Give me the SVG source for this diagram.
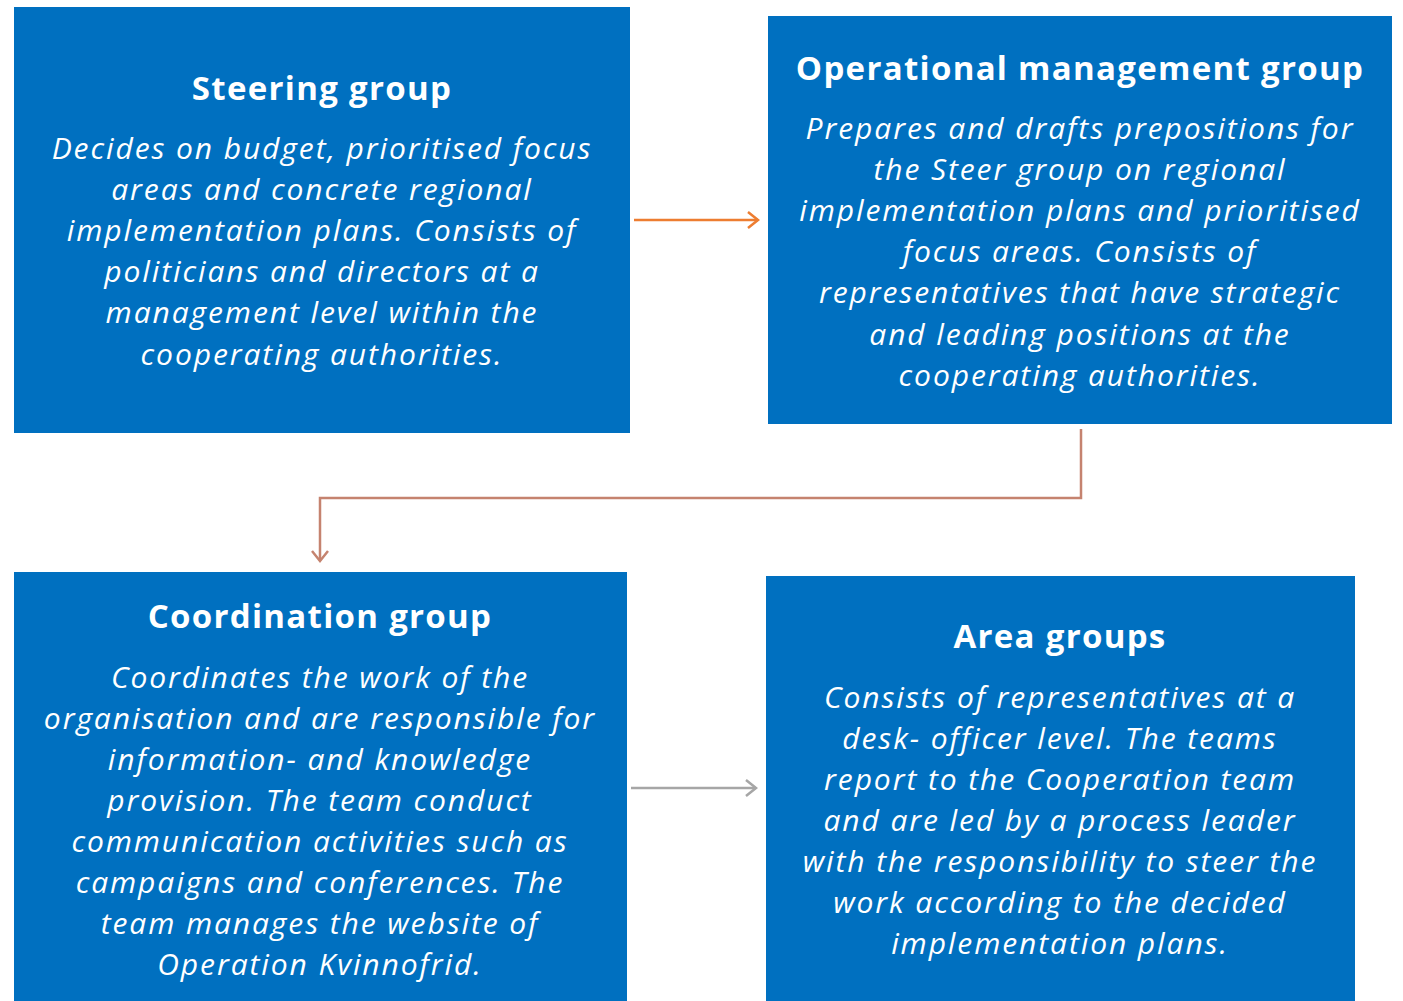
<svg xmlns="http://www.w3.org/2000/svg" width="1403" height="1001" viewBox="0 0 1403 1001">
<defs>
<style>
.box{fill:#0070C0}
.t{font-family:"Open Sans","Liberation Sans",sans-serif;font-weight:bold;font-size:33px;letter-spacing:1.3px;fill:#fff;text-anchor:middle}
.b{font-family:"Open Sans","Liberation Sans",sans-serif;font-style:italic;font-size:30px;letter-spacing:1.9px;fill:#fff;text-anchor:middle}
.c{fill:none;stroke-width:2.5}
</style>
<marker id="ao" viewBox="0 0 20 20" refX="18" refY="10" markerWidth="20" markerHeight="20" markerUnits="userSpaceOnUse" orient="auto"><path d="M8,2 L18,10 L8,18" fill="none" stroke="#ED7D31" stroke-width="2.5"/></marker>
<marker id="ab" viewBox="0 0 20 20" refX="18" refY="10" markerWidth="20" markerHeight="20" markerUnits="userSpaceOnUse" orient="auto"><path d="M8,2 L18,10 L8,18" fill="none" stroke="#C5836F" stroke-width="2.5"/></marker>
<marker id="ag" viewBox="0 0 20 20" refX="18" refY="10" markerWidth="20" markerHeight="20" markerUnits="userSpaceOnUse" orient="auto"><path d="M8,2 L18,10 L8,18" fill="none" stroke="#A6A6A6" stroke-width="2.5"/></marker>
</defs>
<rect width="1403" height="1001" fill="#fff"/>
<g id="connectors">
<line class="c" x1="634" y1="220" x2="758" y2="220" stroke="#ED7D31" marker-end="url(#ao)"/>
<polyline class="c" points="1081,429 1081,498 320,498 320,561" stroke="#C5836F" marker-end="url(#ab)"/>
<line class="c" x1="631" y1="788" x2="756" y2="788" stroke="#A6A6A6" marker-end="url(#ag)"/>
</g>
<g id="steering">
<rect class="box" x="14" y="7" width="616" height="426"/>
<text class="t" x="322" y="100">Steering group</text>
<text class="b" x="322"><tspan x="322" y="159">Decides on budget, prioritised focus</tspan><tspan x="322" y="200">areas and concrete regional</tspan><tspan x="322" y="241">implementation plans. Consists of</tspan><tspan x="322" y="282">politicians and directors at a</tspan><tspan x="322" y="323">management level within the</tspan><tspan x="322" y="365">cooperating authorities.</tspan></text>
</g>
<g id="operational">
<rect class="box" x="768" y="16" width="624" height="408"/>
<text class="t" x="1080" y="80">Operational management group</text>
<text class="b"><tspan x="1080" y="139">Prepares and drafts prepositions for</tspan><tspan x="1080" y="180">the Steer group on regional</tspan><tspan x="1080" y="221">implementation plans and prioritised</tspan><tspan x="1080" y="262">focus areas. Consists of</tspan><tspan x="1080" y="303">representatives that have strategic</tspan><tspan x="1080" y="345">and leading positions at the</tspan><tspan x="1080" y="386">cooperating authorities.</tspan></text>
</g>
<g id="coordination">
<rect class="box" x="14" y="572" width="613" height="429"/>
<text class="t" x="320" y="628">Coordination group</text>
<text class="b"><tspan x="320" y="688">Coordinates the work of the</tspan><tspan x="320" y="729">organisation and are responsible for</tspan><tspan x="320" y="770">information- and knowledge</tspan><tspan x="320" y="811">provision. The team conduct</tspan><tspan x="320" y="852">communication activities such as</tspan><tspan x="320" y="893">campaigns and conferences. The</tspan><tspan x="320" y="934">team manages the website of</tspan><tspan x="320" y="975">Operation Kvinnofrid.</tspan></text>
</g>
<g id="area">
<rect class="box" x="766" y="576" width="589" height="425"/>
<text class="t" x="1060" y="648">Area groups</text>
<text class="b"><tspan x="1060" y="708">Consists of representatives at a</tspan><tspan x="1060" y="749">desk- officer level. The teams</tspan><tspan x="1060" y="790">report to the Cooperation team</tspan><tspan x="1060" y="831">and are led by a process leader</tspan><tspan x="1060" y="872">with the responsibility to steer the</tspan><tspan x="1060" y="913">work according to the decided</tspan><tspan x="1060" y="954">implementation plans.</tspan></text>
</g>
</svg>
